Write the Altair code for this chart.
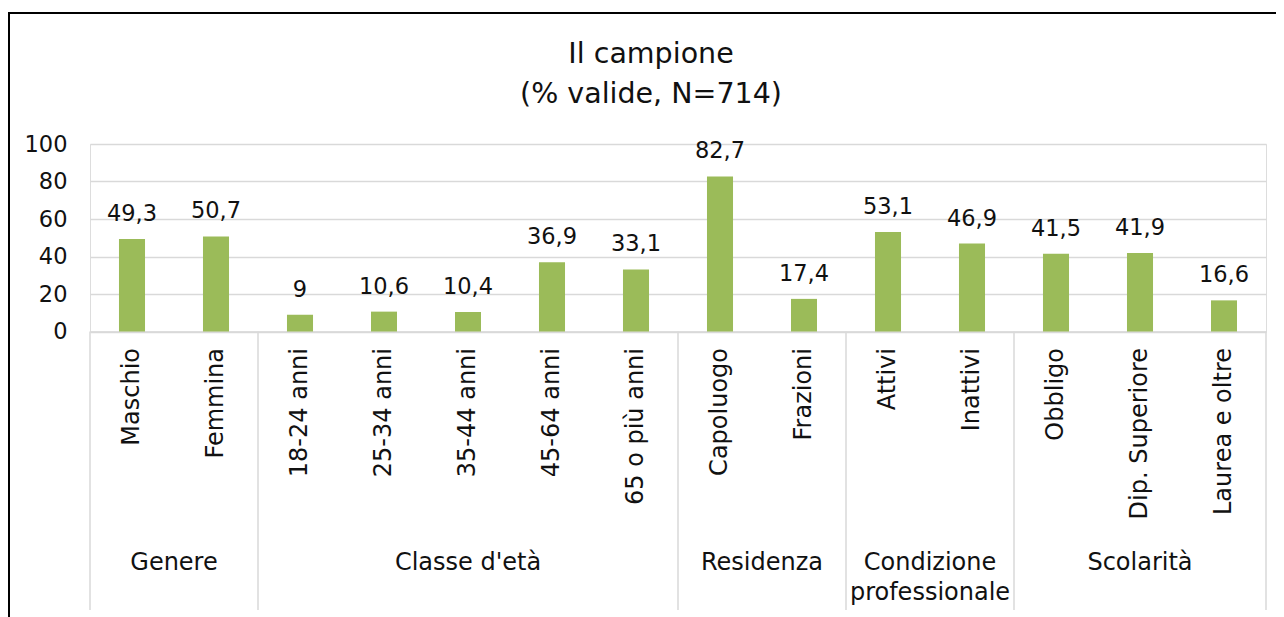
import altair as alt
import pandas as pd

categories = ["Maschio", "Femmina", "18-24 anni", "25-34 anni", "35-44 anni",
              "45-64 anni", "65 o più anni", "Capoluogo", "Frazioni", "Attivi",
              "Inattivi", "Obbligo", "Dip. Superiore", "Laurea e oltre"]
values = [49.3, 50.7, 9, 10.6, 10.4, 36.9, 33.1, 82.7, 17.4, 53.1, 46.9, 41.5, 41.9, 16.6]
groups = ["Genere", "Classe d'età", "Residenza", "Condizione|professionale", "Scolarità"]
group_sizes = [2, 5, 2, 2, 3]
y_ticks = [0, 20, 40, 60, 80, 100]
title_lines = ["Il campione", "(% valide, N=714)"]

FONT = "DejaVu Sans"
TXT = "#111111"
GREEN = "#9BBB59"
GRID = "#D9D9D9"

W = 1176
H = 187.5

df = pd.DataFrame({"cat": categories, "value": values})

starts, centers = [], []
i = 0
for g, n in zip(groups, group_sizes):
    starts.append(categories[i])
    centers.append(i + n / 2)
    i += n
gdf = pd.DataFrame({"group": groups, "center": centers})
sep_start = pd.DataFrame({"cat": starts})
sep_end = pd.DataFrame({"cat": [categories[-1]]})

xscale = alt.Scale(domain=categories, paddingInner=0, paddingOuter=0)
yscale = alt.Scale(domain=[0, 100], nice=False, zero=True)

x_axis = alt.Axis(labelAngle=-90, labelFontSize=24, labelFont=FONT, labelColor=TXT,
                  labelPadding=16, ticks=False, domainColor=GRID, domainWidth=1.5,
                  labelLimit=300, grid=False, labelOverlap=False)
y_axis = alt.Axis(values=y_ticks, tickCount=6, labelFontSize=22.5, labelFont=FONT, labelColor=TXT,
                  labelPadding=23, ticks=False, domain=False, grid=True, gridColor=GRID,
                  gridWidth=1.5, labelOverlap=False, labelFlush=False)

bars = alt.Chart(df).mark_bar(color=GREEN, width=alt.RelativeBandSize(band=0.31)).encode(
    x=alt.X("cat:N", scale=xscale, sort=categories, title=None, axis=x_axis),
    y=alt.Y("value:Q", scale=yscale, title=None, axis=y_axis),
)

labels = alt.Chart(df).transform_calculate(
    lab="replace(toString(datum.value), '.', ',')"
).mark_text(fontSize=22.5, font=FONT, color=TXT, baseline="alphabetic", dy=-18).encode(
    x=alt.X("cat:N", scale=xscale, sort=categories, title=None, axis=x_axis),
    y=alt.Y("value:Q", scale=yscale, title=None, axis=y_axis),
    text="lab:N",
)

seps1 = alt.Chart(sep_start).mark_rule(color=GRID, strokeWidth=1.5).encode(
    x=alt.X("cat:N", scale=xscale, sort=categories, bandPosition=0, title=None, axis=x_axis),
    y=alt.value(H), y2=alt.value(466),
)
seps2 = alt.Chart(sep_end).mark_rule(color=GRID, strokeWidth=1.5).encode(
    x=alt.X("cat:N", scale=xscale, sort=categories, bandPosition=1, title=None, axis=x_axis),
    y=alt.value(H), y2=alt.value(466),
)

main = alt.layer(bars, labels, seps1, seps2)

glabels = alt.Chart(gdf).transform_calculate(
    lines="split(datum.group, '|')"
).mark_text(fontSize=24, font=FONT, color=TXT, baseline="middle", lineHeight=30).encode(
    x=alt.X("center:Q", scale=alt.Scale(domain=[0, len(categories)], nice=False, zero=False), axis=None),
    y=alt.value(419),
    text="lines:N",
)

frame_data = alt.Data(values=[{"k": 1}])
frame_left = alt.Chart(frame_data).mark_rule(color="#000000", strokeWidth=2).encode(
    x=alt.value(-81), y=alt.value(-131), y2=alt.value(600)
)
frame_top = alt.Chart(frame_data).mark_rule(color="#000000", strokeWidth=2).encode(
    x=alt.value(-82), x2=alt.value(1300), y=alt.value(-131)
)
title = alt.Chart(alt.Data(values=[{"t": title_lines}])).mark_text(
    fontSize=28.5, font=FONT, color=TXT, baseline="alphabetic", align="center", lineHeight=40
).encode(x=alt.value(561), y=alt.value(-81), text="t:N")

chart = alt.layer(main, glabels, frame_left, frame_top, title).resolve_scale(x="independent").properties(
    width=W, height=H,
    autosize=alt.AutoSizeParams(type="none"),
    padding={"left": 82, "top": 136, "right": 10, "bottom": 290},
).configure_view(stroke=None).configure_axisY(labelOverlap=False).configure(background="white")

chart.save("out.html", embed_options={"renderer": "svg", "actions": False})
